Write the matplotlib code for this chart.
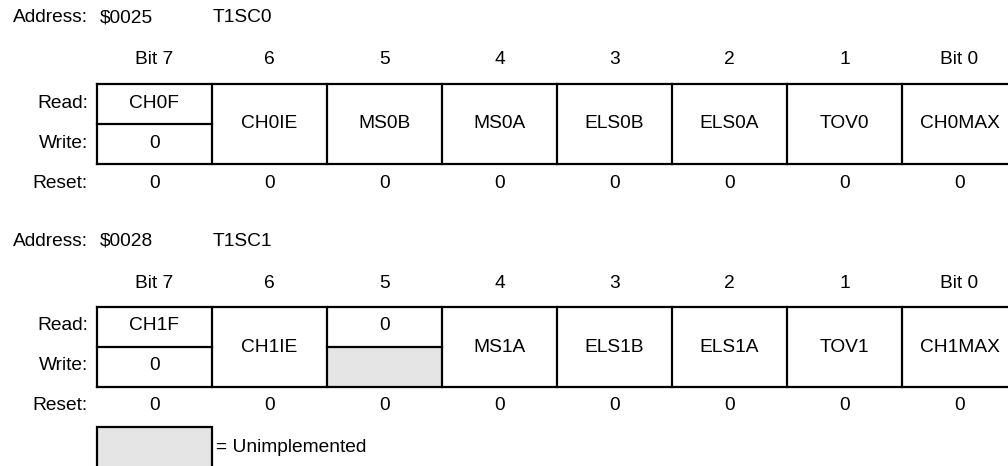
import matplotlib
matplotlib.use('Agg')
from matplotlib import pyplot as plt
from matplotlib.patches import Rectangle

# register contents
addresses = ['$0025', '$0028']
reg_names = ['T1SC0', 'T1SC1']
bit_labels = ['Bit 7', '6', '5', '4', '3', '2', '1', 'Bit 0']

# None in write row -> cell shared with read row, '-' -> unimplemented
reg0_read = ['CH0F', 'CH0IE', 'MS0B', 'MS0A', 'ELS0B', 'ELS0A', 'TOV0', 'CH0MAX']
reg0_write = ['0', None, None, None, None, None, None, None]
reg0_reset = ['0', '0', '0', '0', '0', '0', '0', '0']

reg1_read = ['CH1F', 'CH1IE', '0', 'MS1A', 'ELS1B', 'ELS1A', 'TOV1', 'CH1MAX']
reg1_write = ['0', None, '-', None, None, None, None, None]
reg1_reset = ['0', '0', '0', '0', '0', '0', '0', '0']

row_labels = ['Read:', 'Write:', 'Reset:']
legend_text = '= Unimplemented'

# layout in pixels
X0 = 97
CW = 115
BOX_H = 80
TOPS = [84, 307]
GRAY = '#e5e5e5'
LW = 1.6
FS = 13.8

plt.rcParams['font.family'] = ['Liberation Sans', 'DejaVu Sans']

fig = plt.figure(figsize=(10.08, 4.66), dpi=100)
ax = fig.add_axes([0, 0, 1, 1])
ax.set_xlim(0, 1008)
ax.set_ylim(466, 0)
ax.axis('off')


def draw_register(top, address, name, read, write, reset):
    mid = top + BOX_H / 2
    bot = top + BOX_H
    ax.text(88, top - 66, 'Address:', ha='right', va='center', fontsize=FS)
    ax.text(100, top - 66, address, ha='left', va='center', fontsize=FS)
    ax.text(213, top - 66, name, ha='left', va='center', fontsize=FS)
    ax.text(88, top + BOX_H / 4 - 1, row_labels[0], ha='right', va='center', fontsize=FS)
    ax.text(88, top + 3 * BOX_H / 4 - 1, row_labels[1], ha='right', va='center', fontsize=FS)
    ax.text(88, bot + 19, row_labels[2], ha='right', va='center', fontsize=FS)

    for i in range(len(bit_labels)):
        xl = X0 + i * CW
        xc = xl + CW / 2
        ax.text(xc, top - 24, bit_labels[i], ha='center', va='center', fontsize=FS)
        ax.text(xc, bot + 19, reset[i], ha='center', va='center', fontsize=FS)
        if write[i] is None:
            ax.text(xc, mid, read[i], ha='center', va='center', fontsize=FS)
        else:
            ax.text(xc, top + BOX_H / 4 - 1, read[i], ha='center', va='center', fontsize=FS)
            if write[i] == '-':
                ax.add_patch(Rectangle((xl, mid), CW, BOX_H / 2, facecolor=GRAY,
                                       edgecolor='none', zorder=0))
            else:
                ax.text(xc, top + 3 * BOX_H / 4 - 1, write[i], ha='center', va='center', fontsize=FS)
            ax.plot([xl, xl + CW], [mid, mid], color='black', lw=LW)
        ax.plot([xl, xl], [top, bot], color='black', lw=LW)

    right = X0 + len(bit_labels) * CW
    ax.plot([X0, right], [top, top], color='black', lw=LW)
    ax.plot([X0, right], [bot, bot], color='black', lw=LW)
    ax.plot([right, right], [top, bot], color='black', lw=LW)


draw_register(TOPS[0], addresses[0], reg_names[0], reg0_read, reg0_write, reg0_reset)
draw_register(TOPS[1], addresses[1], reg_names[1], reg1_read, reg1_write, reg1_reset)

# legend for unimplemented cells
ax.add_patch(Rectangle((X0, 427), CW, 60, facecolor=GRAY, edgecolor='black', lw=LW))
ax.text(216, 447, legend_text, ha='left', va='center', fontsize=FS)

fig.savefig('out.png', dpi=100)
